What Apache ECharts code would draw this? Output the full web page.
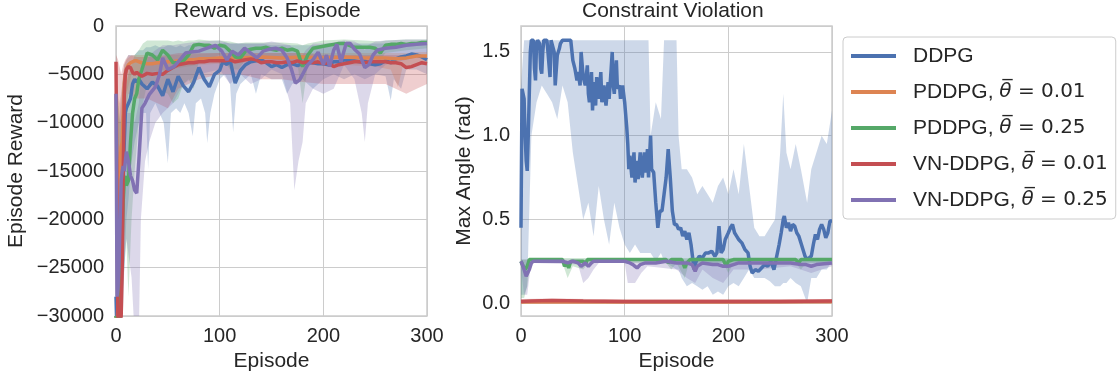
<!DOCTYPE html>
<html>
<head>
<meta charset="utf-8">
<script src="https://cdn.jsdelivr.net/npm/echarts@6/dist/echarts.min.js"></script>
<style>
html,body{margin:0;padding:0;background:#fff;}
#chart{width:1119px;height:378px;}
</style>
</head>
<body>
<div id="chart"></div>
<script>
// ---------- DATA ----------
const SERIES_NAMES = ['DDPG', 'PDDPG 0.01', 'PDDPG 0.25', 'VN-DDPG 0.01', 'VN-DDPG 0.25'];
const LEGEND_PARTS = {
  'DDPG': ['DDPG', null],
  'PDDPG 0.01': ['PDDPG, ', '0.01'],
  'PDDPG 0.25': ['PDDPG, ', '0.25'],
  'VN-DDPG 0.01': ['VN-DDPG, ', '0.01'],
  'VN-DDPG 0.25': ['VN-DDPG, ', '0.25']
};
const X_TICKS = [0, 100, 200, 300];
const REWARD_TICKS = [-30000, -25000, -20000, -15000, -10000, -5000, 0];
const ANGLE_TICKS = [0.0, 0.5, 1.0, 1.5];

// Episode reward (mean lines) [episode, reward]
const REWARD_DDPG = [[0,-28000],[1,-32000],[3,-32000],[4,-30000],[5,-25000],[6,-20000],[7,-15000],[8,-12000],[9,-9000],[10,-8500],[12,-8000],[14,-7500],[16,-6000],[18,-5500],[20,-5800],[22,-5500],[25,-6000],[30,-6500],[35,-5800],[40,-6200],[45,-7200],[50,-5500],[55,-6800],[60,-5200],[65,-6200],[70,-6800],[75,-5800],[80,-4300],[85,-5500],[90,-6300],[95,-5000],[100,-4600],[103,-3700],[107,-4000],[110,-3500],[115,-5900],[120,-4600],[125,-4000],[130,-3700],[135,-3600],[140,-3500],[145,-3800],[150,-4200],[155,-4000],[160,-4300],[165,-4000],[170,-3900],[175,-4100],[180,-3900],[185,-3800],[190,-3800],[195,-3900],[200,-3900],[205,-4000],[210,-3700],[215,-3700],[220,-3500],[225,-3600],[230,-3600],[235,-3700],[240,-3600],[245,-3900],[250,-4000],[255,-3900],[260,-3600],[265,-3800],[270,-3400],[275,-3200],[280,-3100],[285,-2900],[290,-3000],[295,-3200],[300,-3500]];
const REWARD_PDDPG_001 = [[0,-30000],[1,-32000],[2,-28000],[3,-20000],[4,-14000],[5,-12500],[6,-12000],[7,-9000],[8,-6000],[9,-5000],[10,-4500],[12,-4000],[14,-3800],[16,-3700],[18,-3600],[20,-3600],[22,-3700],[25,-3800],[30,-3900],[35,-3900],[40,-3800],[45,-3800],[50,-3700],[55,-3700],[60,-3600],[65,-3600],[70,-3500],[75,-3500],[80,-3400],[90,-3400],[100,-3300],[120,-3300],[140,-3200],[160,-3300],[180,-3200],[200,-3300],[220,-3200],[240,-3300],[260,-3300],[270,-3400],[280,-3300],[290,-3100],[300,-3100]];
const REWARD_PDDPG_025 = [[0,-30000],[1,-32000],[3,-32000],[4,-30000],[5,-26000],[6,-22000],[7,-18000],[8,-16000],[9,-15500],[10,-16500],[12,-16000],[14,-12000],[16,-9000],[18,-7500],[20,-7000],[22,-5500],[25,-4500],[30,-2800],[35,-3000],[40,-3500],[45,-2500],[50,-3000],[55,-3800],[60,-3800],[65,-3600],[70,-3000],[75,-2000],[80,-1900],[85,-2000],[90,-2000],[95,-2300],[100,-2000],[105,-2100],[110,-2600],[115,-3200],[120,-3300],[125,-2600],[130,-2400],[135,-2300],[140,-2300],[145,-2200],[150,-2400],[155,-2500],[160,-2300],[165,-2500],[170,-2400],[175,-2600],[180,-4200],[185,-3000],[190,-2300],[195,-2200],[200,-2100],[205,-2000],[210,-1900],[215,-1800],[220,-1800],[225,-2000],[230,-2200],[235,-2200],[240,-2200],[245,-2200],[250,-2300],[255,-2800],[260,-2000],[265,-1900],[270,-1900],[275,-1800],[280,-1900],[285,-1800],[290,-1800],[295,-1700],[300,-1700]];
const REWARD_VN_001 = [[0,-3700],[1,-20000],[2,-32000],[4,-32000],[5,-30000],[6,-25000],[7,-15000],[8,-7000],[9,-5000],[10,-4500],[12,-4200],[14,-4300],[16,-4800],[18,-5000],[20,-4800],[22,-5000],[25,-5200],[30,-4900],[35,-5000],[40,-4900],[45,-5000],[50,-4600],[55,-4300],[60,-4000],[65,-3900],[70,-3800],[75,-3800],[80,-3700],[85,-3700],[90,-3600],[95,-3600],[100,-3600],[105,-3600],[110,-3500],[115,-3700],[120,-3600],[125,-3500],[130,-3400],[135,-3500],[140,-3800],[145,-3700],[150,-3700],[155,-3800],[160,-3800],[165,-3700],[170,-3800],[175,-3600],[180,-3800],[185,-3700],[190,-3800],[195,-3700],[200,-3900],[205,-3800],[210,-4200],[215,-4000],[220,-3900],[225,-3800],[230,-3700],[235,-3700],[240,-3800],[245,-3700],[250,-3700],[255,-3700],[260,-3700],[265,-3800],[270,-3800],[275,-3900],[280,-4300],[285,-4200],[290,-4000],[295,-3800],[300,-3900]];
const REWARD_VN_025 = [[0,-7000],[1,-28000],[2,-27000],[3,-24000],[4,-20000],[5,-16000],[6,-15000],[7,-14500],[8,-15000],[9,-14000],[10,-13000],[12,-14000],[14,-15500],[16,-16000],[18,-17000],[20,-17300],[22,-14000],[25,-8500],[28,-8000],[32,-7100],[38,-6300],[42,-5000],[45,-3300],[50,-4500],[56,-4200],[60,-3700],[67,-2800],[72,-2700],[80,-2600],[85,-2400],[90,-2200],[96,-2000],[102,-2600],[107,-3500],[112,-2600],[118,-3000],[124,-2300],[130,-2800],[136,-3300],[142,-2600],[148,-2400],[154,-2300],[160,-2500],[165,-3300],[169,-4400],[173,-5900],[177,-5600],[180,-5000],[185,-4000],[190,-3500],[195,-2700],[200,-4000],[203,-3000],[206,-4200],[210,-2500],[213,-1900],[217,-3700],[222,-1800],[226,-1800],[230,-2400],[235,-2900],[240,-4300],[244,-4000],[248,-3000],[252,-2500],[256,-2400],[260,-2300],[270,-2200],[280,-2000],[290,-1900],[300,-1800]];

// Episode reward bands [episode, lower, upper]
const REWARD_BAND_DDPG = [[0,-32000,-5000],[3,-32000,-10000],[6,-32000,-6000],[8,-25000,-4000],[10,-20000,-3500],[12,-18000,-3000],[15,-14000,-3000],[18,-12000,-3000],[22,-10000,-2500],[26,-9000,-2500],[29,-9000,-2200],[31,-14800,-2200],[33,-9000,-2200],[38,-8000,-2000],[42,-9000,-2200],[46,-10000,-2200],[50,-14200,-2000],[53,-9000,-2000],[58,-8500,-2200],[62,-9000,-2000],[66,-8000,-2200],[70,-9000,-2000],[74,-11400,-2000],[77,-8000,-2000],[82,-7500,-1800],[86,-9000,-2000],[88,-12100,-2000],[91,-9000,-2000],[95,-7000,-2000],[100,-5500,-1800],[105,-5000,-1700],[110,-6000,-1800],[113,-11000,-1800],[116,-7000,-1800],[120,-6000,-1800],[130,-5000,-1800],[135,-7000,-1800],[140,-5000,-1800],[150,-5500,-2000],[160,-5500,-2000],[165,-7000,-2000],[170,-6000,-2000],[180,-5500,-2000],[190,-6500,-2000],[200,-5500,-2000],[210,-5000,-2000],[220,-5500,-1900],[230,-5000,-1800],[240,-5500,-1800],[250,-5000,-1800],[260,-5200,-1800],[265,-7700,-1800],[268,-5500,-1800],[275,-6500,-1800],[280,-4500,-1800],[290,-4500,-1700],[300,-5000,-1800]];
const REWARD_BAND_PDDPG_001 = [[0,-32000,-5000],[3,-32000,-8000],[5,-20000,-7000],[8,-12000,-4000],[10,-7000,-3500],[15,-5000,-3000],[20,-4800,-3000],[30,-4800,-3000],[50,-4500,-3000],[80,-4000,-2900],[100,-3900,-2800],[150,-3800,-2800],[200,-3900,-2800],[250,-4200,-2800],[265,-4500,-2800],[272,-6300,-2800],[277,-4000,-2800],[283,-4500,-2800],[290,-4000,-2700],[300,-4000,-2700]];
const REWARD_BAND_PDDPG_025 = [[0,-32000,-5000],[4,-32000,-10000],[8,-25000,-8000],[10,-22000,-6000],[12,-28000,-5000],[15,-20000,-4000],[18,-15000,-3000],[22,-10000,-2500],[26,-8000,-1800],[30,-6000,-1500],[40,-6500,-1500],[50,-7000,-1500],[55,-8000,-1600],[60,-7500,-1500],[65,-6000,-1600],[70,-5500,-1500],[75,-6500,-1500],[80,-3500,-1400],[90,-3500,-1500],[100,-3000,-1500],[110,-4500,-1600],[118,-4500,-1800],[125,-3500,-1700],[140,-3300,-1700],[160,-3300,-1700],[175,-3800,-1800],[180,-8000,-2000],[185,-4000,-1800],[200,-3200,-1500],[220,-3000,-1400],[240,-3200,-1500],[255,-3500,-1600],[260,-2800,-1500],[280,-2500,-1400],[300,-2300,-1400]];
const REWARD_BAND_VN_001 = [[0,-5000,-3000],[2,-32000,-3500],[5,-32000,-5000],[7,-20000,-4000],[9,-9000,-3500],[12,-7000,-3000],[20,-7500,-3200],[30,-7500,-3200],[40,-8000,-3200],[50,-8500,-3000],[60,-6500,-2800],[80,-5500,-2800],[100,-5000,-2800],[120,-5000,-2800],[140,-5500,-2800],[160,-5500,-2800],[180,-5800,-2800],[200,-6000,-3000],[220,-6000,-3000],[240,-6000,-3000],[260,-6000,-3000],[280,-7000,-3000],[290,-6500,-3000],[300,-6000,-3000]];
const REWARD_BAND_VN_025 = [[0,-32000,-5000],[3,-32000,-15000],[6,-28000,-11000],[10,-22000,-9000],[15,-26000,-9000],[18,-32000,-10000],[22,-32000,-8000],[24,-20000,-5000],[28,-14000,-4000],[32,-12000,-3000],[38,-10000,-2500],[45,-9000,-2000],[55,-8000,-2000],[65,-6000,-1800],[80,-5000,-1600],[100,-4500,-1500],[110,-6000,-1800],[120,-5000,-1800],[130,-6000,-1800],[140,-5500,-1800],[150,-4500,-1600],[160,-5000,-1800],[168,-8000,-2000],[172,-17000,-2500],[176,-14000,-3000],[180,-12000,-3000],[183,-8000,-2500],[190,-6500,-1800],[200,-7000,-1800],[210,-6500,-1700],[220,-4000,-1500],[230,-5500,-1600],[237,-9000,-2000],[240,-12000,-2500],[243,-8000,-2000],[250,-5000,-1600],[260,-4000,-1500],[280,-3500,-1400],[300,-3000,-1400]];

// Max angle (mean lines) [episode, rad]
const ANGLE_DDPG = [[0,0.45],[1,1.28],[2,1.25],[3,1.22],[4,1.0],[5,0.85],[6,0.79],[7,1.0],[8,1.25],[9,1.5],[10,1.57],[12,1.57],[13,1.40],[14,1.33],[15,1.55],[16,1.57],[18,1.55],[19,1.4],[20,1.37],[21,1.5],[22,1.57],[25,1.57],[26,1.5],[28,1.35],[29,1.57],[30,1.57],[32,1.5],[33,1.30],[35,1.48],[37,1.52],[38,1.55],[40,1.57],[45,1.57],[48,1.57],[50,1.45],[52,1.4],[54,1.33],[55,1.38],[57,1.3],[58,1.5],[60,1.35],[62,1.30],[64,1.42],[65,1.25],[66,1.2],[68,1.38],[69,1.15],[70,1.32],[72,1.18],[73,1.35],[75,1.22],[77,1.38],[78,1.2],[80,1.30],[82,1.18],[84,1.32],[85,1.22],[87,1.40],[88,1.50],[89,1.30],[90,1.25],[92,1.45],[93,1.28],[95,1.30],[96,1.22],[98,1.30],[100,1.20],[102,1.05],[103,0.95],[104,0.80],[105,0.88],[107,0.75],[109,0.90],[110,0.72],[112,0.85],[113,0.74],[115,0.90],[117,0.75],[119,0.90],[120,0.78],[122,0.92],[123,0.75],[125,1.0],[126,0.80],[128,0.78],[130,0.60],[132,0.45],[134,0.55],[136,0.55],[138,0.65],[140,0.75],[142,0.92],[144,0.75],[146,0.55],[148,0.47],[150,0.47],[152,0.44],[154,0.45],[156,0.40],[158,0.43],[160,0.38],[162,0.42],[164,0.35],[166,0.25],[167,0.20],[169,0.25],[172,0.28],[175,0.27],[178,0.30],[181,0.30],[184,0.31],[187,0.28],[189,0.30],[191,0.46],[193,0.30],[195,0.32],[197,0.38],[200,0.42],[202,0.45],[204,0.47],[206,0.42],[208,0.40],[210,0.38],[213,0.36],[216,0.32],[219,0.30],[221,0.22],[223,0.18],[226,0.20],[229,0.19],[232,0.21],[235,0.23],[238,0.22],[241,0.25],[244,0.20],[246,0.26],[249,0.35],[251,0.42],[253,0.50],[254,0.52],[256,0.45],[258,0.48],[260,0.43],[262,0.47],[264,0.46],[266,0.42],[268,0.40],[270,0.36],[272,0.32],[274,0.28],[276,0.26],[278,0.27],[280,0.28],[282,0.35],[284,0.41],[286,0.38],[288,0.44],[290,0.47],[292,0.44],[294,0.39],[296,0.42],[298,0.49],[300,0.49]];
const ANGLE_PDDPG_001 = [[0,0.006],[100,0.007],[200,0.007],[300,0.008]];
const ANGLE_PDDPG_025 = [[0,0.25],[2,0.22],[4,0.20],[6,0.22],[8,0.26],[40,0.26],[42,0.22],[44,0.24],[46,0.21],[48,0.25],[60,0.25],[62,0.23],[64,0.26],[140,0.26],[142,0.24],[145,0.26],[155,0.26],[158,0.21],[160,0.24],[163,0.26],[195,0.26],[198,0.22],[200,0.25],[205,0.26],[265,0.26],[268,0.24],[270,0.26],[300,0.26]];
const ANGLE_VN_001 = [[0,0.010],[10,0.012],[30,0.015],[60,0.012],[100,0.010],[150,0.010],[200,0.010],[250,0.010],[300,0.012]];
const ANGLE_VN_025 = [[0,0.25],[2,0.22],[4,0.18],[5,0.16],[6,0.17],[8,0.20],[10,0.24],[12,0.25],[40,0.25],[45,0.24],[50,0.25],[55,0.24],[58,0.22],[60,0.23],[62,0.24],[65,0.22],[68,0.24],[70,0.25],[100,0.25],[105,0.24],[108,0.23],[110,0.22],[112,0.21],[115,0.23],[120,0.24],[130,0.24],[140,0.25],[150,0.24],[160,0.24],[165,0.23],[168,0.19],[170,0.22],[175,0.24],[185,0.23],[190,0.23],[195,0.22],[200,0.22],[205,0.23],[210,0.24],[240,0.24],[260,0.24],[270,0.23],[275,0.23],[280,0.22],[285,0.23],[300,0.24]];

// Max angle bands [episode, lower, upper]
const ANGLE_BAND_DDPG = [[0,0.05,1.3],[3,0.05,1.57],[6,0.1,1.57],[10,1.0,1.57],[15,1.2,1.57],[20,1.3,1.57],[25,1.25,1.57],[30,1.2,1.57],[35,1.1,1.57],[40,1.3,1.57],[45,1.2,1.57],[50,0.9,1.57],[55,0.7,1.57],[60,0.5,1.57],[65,0.6,1.57],[70,0.4,1.57],[75,0.7,1.57],[80,0.5,1.57],[85,0.35,1.57],[90,0.6,1.57],[95,0.45,1.57],[100,0.35,1.57],[105,0.3,1.57],[110,0.35,1.57],[115,0.3,1.57],[120,0.3,1.57],[123,0.3,1.57],[125,0.3,1.0],[130,0.25,1.2],[135,0.3,1.1],[138,0.25,1.57],[150,0.2,1.57],[152,0.2,1.0],[155,0.15,0.8],[160,0.1,0.8],[165,0.12,0.75],[170,0.1,0.65],[175,0.08,0.7],[180,0.1,0.65],[185,0.05,0.6],[190,0.07,0.7],[195,0.05,0.75],[200,0.1,0.65],[205,0.12,0.8],[210,0.1,0.65],[215,0.15,0.95],[220,0.2,0.7],[225,0.15,0.45],[230,0.15,0.4],[235,0.15,0.4],[240,0.13,0.45],[245,0.1,0.5],[250,0.1,0.9],[253,0.12,1.25],[256,0.12,0.9],[260,0.15,0.8],[265,0.12,0.95],[270,0.1,0.8],[273,0.05,0.7],[276,0.0,0.6],[280,0.15,0.8],[285,0.15,0.9],[290,0.2,1.0],[295,0.2,0.95],[300,0.25,1.15]];
const ANGLE_BAND_PDDPG_001 = [[0,0.0,0.02],[300,0.0,0.02]];
const ANGLE_BAND_PDDPG_025 = [[0,0.03,0.26],[3,0.03,0.26],[6,0.1,0.26],[9,0.24,0.27],[40,0.24,0.27],[45,0.15,0.27],[50,0.22,0.27],[60,0.2,0.27],[65,0.24,0.27],[140,0.24,0.27],[145,0.2,0.27],[150,0.24,0.27],[158,0.15,0.27],[162,0.24,0.27],[195,0.24,0.27],[200,0.18,0.27],[205,0.24,0.27],[265,0.24,0.27],[270,0.2,0.27],[275,0.24,0.27],[300,0.24,0.27]];
const ANGLE_BAND_VN_001 = [[0,0.0,0.025],[30,0.005,0.028],[100,0.0,0.022],[300,0.0,0.025]];
const ANGLE_BAND_VN_025 = [[0,0.2,0.26],[3,0.05,0.26],[6,0.05,0.26],[9,0.2,0.26],[12,0.24,0.26],[55,0.23,0.26],[60,0.12,0.26],[65,0.15,0.26],[70,0.2,0.26],[75,0.24,0.26],[100,0.24,0.26],[103,0.12,0.26],[110,0.12,0.26],[116,0.18,0.26],[122,0.22,0.26],[150,0.2,0.26],[160,0.15,0.26],[168,0.12,0.26],[175,0.2,0.26],[185,0.15,0.26],[195,0.12,0.26],[205,0.2,0.26],[230,0.2,0.26],[260,0.22,0.26],[280,0.18,0.26],[290,0.2,0.26],[300,0.22,0.26]];

// ---------- STYLE ----------
const COLORS = ['#4C72B0', '#DD8452', '#55A868', '#C44E52', '#8172B3'];
const TEXT = '#262626';
const FONT = 'Liberation Sans, Arial, sans-serif';
const GRIDC = '#cccccc';
const FS = 21;   // titles, axis names, legend
const TFS = 20;  // tick labels

const rewardLines = [REWARD_DDPG, REWARD_PDDPG_001, REWARD_PDDPG_025, REWARD_VN_001, REWARD_VN_025];
const rewardBands = [REWARD_BAND_DDPG, REWARD_BAND_PDDPG_001, REWARD_BAND_PDDPG_025, REWARD_BAND_VN_001, REWARD_BAND_VN_025];
const angleLines = [ANGLE_DDPG, ANGLE_PDDPG_001, ANGLE_PDDPG_025, ANGLE_VN_001, ANGLE_VN_025];
const angleBands = [ANGLE_BAND_DDPG, ANGLE_BAND_PDDPG_001, ANGLE_BAND_PDDPG_025, ANGLE_BAND_VN_001, ANGLE_BAND_VN_025];

function bandSeries(band, color, axisIdx, name) {
  return {
    type: 'custom', name: name, xAxisIndex: axisIdx, yAxisIndex: axisIdx,
    clip: true, silent: true, z: 1,
    data: [[band[0][0], band[0][1]]],
    renderItem: function (params, api) {
      const up = band.map(p => api.coord([p[0], p[2]]));
      const lo = band.slice().reverse().map(p => api.coord([p[0], p[1]]));
      return {
        type: 'polygon',
        shape: { points: up.concat(lo) },
        style: { fill: color, opacity: 0.28, stroke: null }
      };
    }
  };
}
function lineSeries(data, color, axisIdx, name) {
  return {
    type: 'line', name: name, xAxisIndex: axisIdx, yAxisIndex: axisIdx,
    data: data, showSymbol: false, symbol: 'none', clip: true, z: 3,
    lineStyle: { color: color, width: 3.5 }, itemStyle: { color: color }
  };
}

const series = [];
for (let i = 0; i < 5; i++) {
  series.push(bandSeries(rewardBands[i], COLORS[i], 0, 'band-r-' + i));
  series.push(bandSeries(angleBands[i], COLORS[i], 1, 'band-a-' + i));
}
for (let i = 0; i < 5; i++) {
  series.push(lineSeries(rewardLines[i], COLORS[i], 0, SERIES_NAMES[i]));
  series.push(lineSeries(angleLines[i], COLORS[i], 1, SERIES_NAMES[i]));
}

function xAxis(gridIndex) {
  return {
    type: 'value', gridIndex: gridIndex, min: X_TICKS[0], max: X_TICKS[X_TICKS.length - 1], interval: 100,
    name: 'Episode', nameLocation: 'middle', nameGap: 33,
    nameTextStyle: { color: TEXT, fontSize: FS, fontFamily: FONT },
    axisLine: { show: false }, axisTick: { show: false },
    axisLabel: { color: TEXT, fontSize: TFS, fontFamily: FONT, margin: 10 },
    splitLine: { show: true, lineStyle: { color: GRIDC, width: 1 } }
  };
}

const option = {
  animation: false,
  backgroundColor: '#ffffff',
  title: [
    { text: 'Reward vs. Episode', left: 174, top: 1, padding: 0,
      textStyle: { color: TEXT, fontSize: FS, fontWeight: 'normal', fontFamily: FONT } },
    { text: 'Constraint Violation', left: 582, top: 1, padding: 0,
      textStyle: { color: TEXT, fontSize: FS, fontWeight: 'normal', fontFamily: FONT } }
  ],
  grid: [
    { left: 116, top: 26, width: 311, height: 290, show: true, borderColor: GRIDC, borderWidth: 1.5, backgroundColor: '#fff' },
    { left: 521, top: 26, width: 311, height: 290, show: true, borderColor: GRIDC, borderWidth: 1.5, backgroundColor: '#fff' }
  ],
  xAxis: [xAxis(0), xAxis(1)],
  yAxis: [
    {
      type: 'value', gridIndex: 0, min: REWARD_TICKS[0], max: REWARD_TICKS[REWARD_TICKS.length - 1], interval: 5000,
      name: 'Episode Reward', nameLocation: 'middle', nameGap: 89, nameRotate: 90,
      nameTextStyle: { color: TEXT, fontSize: FS, fontFamily: FONT },
      axisLine: { show: false }, axisTick: { show: false },
      axisLabel: { color: TEXT, fontSize: TFS, fontFamily: FONT, margin: 12,
        formatter: v => (v < 0 ? '\u2212' + Math.abs(v) : String(v)) },
      splitLine: { show: true, lineStyle: { color: GRIDC, width: 1 } }
    },
    {
      type: 'value', gridIndex: 1, min: -0.077, max: 1.655, splitNumber: 4,
      name: 'Max Angle (rad)', nameLocation: 'middle', nameGap: 46, nameRotate: 90,
      nameTextStyle: { color: TEXT, fontSize: FS, fontFamily: FONT },
      axisLine: { show: false }, axisTick: { show: false },
      axisLabel: { color: TEXT, fontSize: TFS, fontFamily: FONT, margin: 11, showMinLabel: false, showMaxLabel: false,
        formatter: v => (ANGLE_TICKS.some(t => Math.abs(t - v) < 1e-9) ? v.toFixed(1) : '') },
      splitLine: { show: true, lineStyle: { color: GRIDC, width: 1 } }
    }
  ],
  legend: {
    data: SERIES_NAMES, orient: 'vertical', left: 843, top: 37,
    padding: [7, 8, 7, 8], itemGap: 12, itemWidth: 45, itemHeight: 4,
    icon: 'rect', backgroundColor: '#ffffff', borderColor: GRIDC, borderWidth: 1, borderRadius: 4,
    selectedMode: false,
    formatter: function (name) {
      const p = LEGEND_PARTS[name];
      if (!p[1]) return '{a|' + p[0] + '}';
      return '{a|' + p[0] + '}{t|\u03B8\u0305}{m| = ' + p[1] + '}';
    },
    textStyle: {
      color: TEXT, fontSize: FS, fontFamily: FONT, lineHeight: 24, padding: [0, 0, 0, 12],
      rich: {
        a: { color: TEXT, fontSize: FS, fontFamily: FONT, lineHeight: 24 },
        t: { color: TEXT, fontSize: FS - 1, fontFamily: 'DejaVu Sans', fontStyle: 'italic', lineHeight: 24 },
        m: { color: TEXT, fontSize: FS - 1, fontFamily: 'DejaVu Sans', lineHeight: 24 }
      }
    }
  },
  series: series
};

const chart = echarts.init(document.getElementById('chart'), null, { renderer: 'canvas' });
chart.setOption(option);
</script>
</body>
</html>
